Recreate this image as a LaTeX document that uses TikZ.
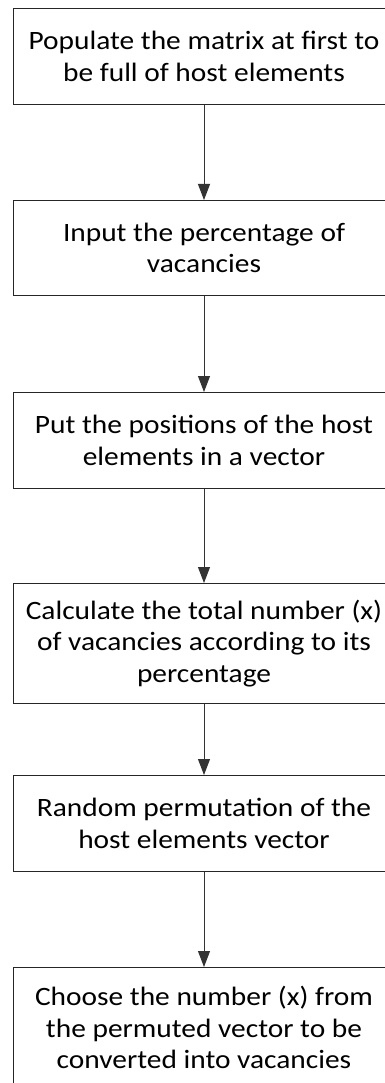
\documentclass[tikz,border=0pt]{standalone}
\usepackage{fontspec}
\setmainfont{Carlito}[FakeStretch=1.11]
\usetikzlibrary{arrows.meta}
\tikzset{
  stepbox/.style={draw=black!85, line width=0.9pt, minimum width=382pt, align=center, anchor=north,
    font=\fontsize{26.5}{31.7}\selectfont, inner sep=0pt, text=black},
  flow/.style={draw=black!80, line width=0.9pt, -{Triangle[width=12pt,length=16pt]}}
}
\begin{document}
\begin{tikzpicture}[x=1pt,y=1pt]
\useasboundingbox (0,0) rectangle (385,-1083);
\clip (0,0) rectangle (385,-1083);
\node[stepbox, minimum height=96pt] (b1) at (204,-8) {Populate the matrix at first to\\be full of host elements};
\node[stepbox, minimum height=95pt] (b2) at (204,-200) {Input the percentage of\\vacancies};
\node[stepbox, minimum height=96pt] (b3) at (204,-392) {Put the positions of the host\\elements in a vector};
\node[stepbox, minimum height=120pt] (b4) at (204,-583) {Calculate the total number (x)\\of vacancies according to its\\percentage};
\node[stepbox, minimum height=96pt] (b5) at (204,-775) {Random permutation of the\\host elements vector};
\node[stepbox, minimum height=120pt] (b6) at (204,-967) {Choose the number (x) from\\the permuted vector to be\\converted into vacancies};
\draw[flow] (b1) -- (b2);
\draw[flow] (b2) -- (b3);
\draw[flow] (b3) -- (b4);
\draw[flow] (b4) -- (b5);
\draw[flow] (b5) -- (b6);
\end{tikzpicture}
\end{document}
